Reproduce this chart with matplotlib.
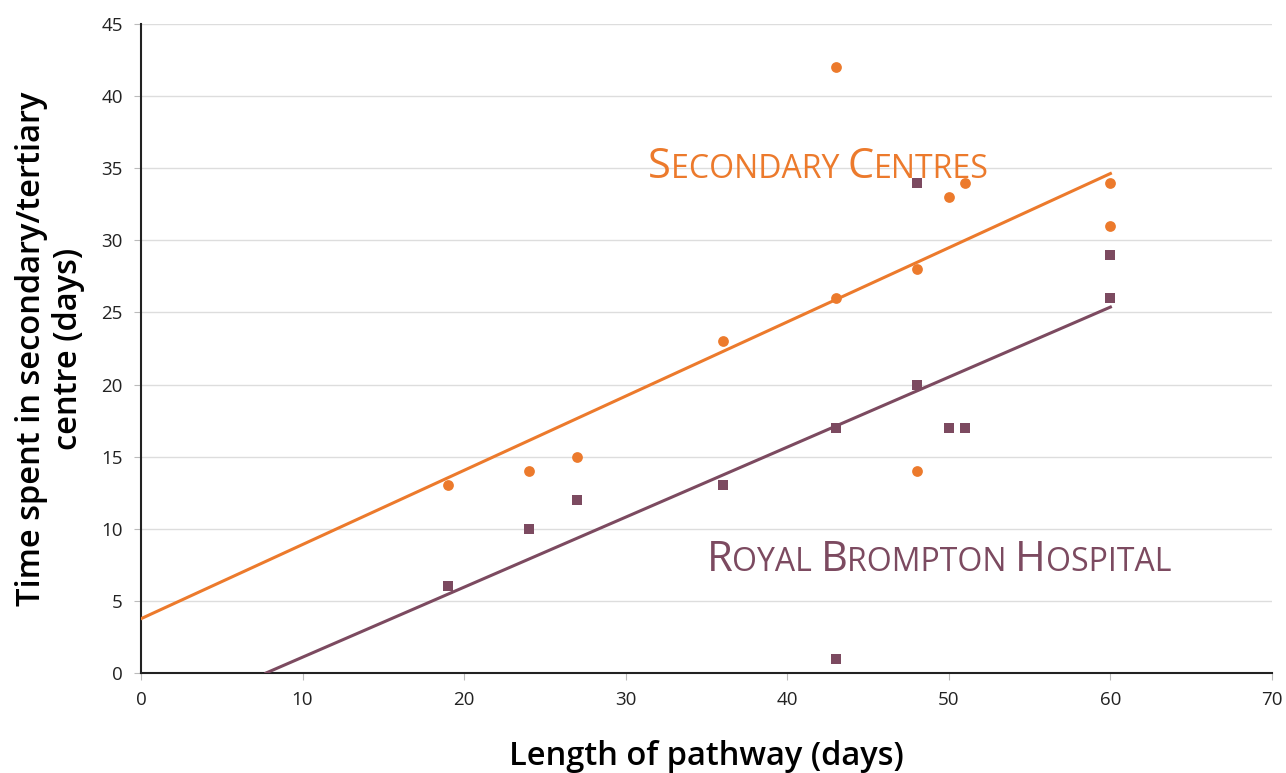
import numpy as np
import matplotlib.pyplot as plt
from matplotlib.offsetbox import TextArea, HPacker, AnchoredOffsetbox

# Data
sec_x = [19, 24, 27, 36, 43, 43, 48, 48, 50, 51, 60, 60]
sec_y = [13, 14, 15, 23, 26, 42, 28, 14, 33, 34, 34, 31]
rbh_x = [19, 24, 27, 36, 43, 43, 48, 48, 50, 51, 60, 60]
rbh_y = [6, 10, 12, 13, 17, 1, 34, 20, 17, 17, 29, 26]

orange = '#EC7A2C'
purple = '#7C4A60'

plt.rcParams['font.family'] = ['Open Sans', 'DejaVu Sans']

fig = plt.figure(figsize=(12.86, 7.73), dpi=100)
ax = fig.add_axes([0.1096, 0.1294, 0.8795, 0.8396])

# Linear trend lines
m1, c1 = np.polyfit(sec_x, sec_y, 1)
m2, c2 = np.polyfit(rbh_x, rbh_y, 1)
x1 = np.array([0, 60])
x2 = np.array([-c2 / m2, 60])
ax.plot(x1, m1 * x1 + c1, color=orange, lw=2.2, zorder=3)
ax.plot(x2, m2 * x2 + c2, color=purple, lw=2.2, zorder=3)

ax.scatter(sec_x, sec_y, s=60, marker='o', color=orange, zorder=4, linewidths=0)
ax.scatter(rbh_x, rbh_y, s=60, marker='s', color=purple, zorder=4, linewidths=0)

ax.set_xlim(0, 70)
ax.set_ylim(0, 45)
ax.set_xticks(range(0, 71, 10))
ax.set_yticks(range(0, 46, 5))
ax.grid(axis='y', color='#dddddd', lw=1)
ax.set_axisbelow(True)
for s in ['top', 'right']:
    ax.spines[s].set_visible(False)
for s in ['left', 'bottom']:
    ax.spines[s].set_color('#222222')
    ax.spines[s].set_linewidth(1.5)
ax.tick_params(labelsize=13.5, colors='#222222', length=5, color='#bbbbbb', pad=8)

ax.set_xlabel('Length of pathway (days)', fontsize=23.5, fontweight='semibold', labelpad=22)
ax.set_ylabel('Time spent in secondary/tertiary\ncentre (days)', fontsize=23.5,
              fontweight='semibold', labelpad=12, linespacing=1.15)


def small_caps(words, big, small, color):
    parts = []
    for i, w in enumerate(words):
        parts.append(TextArea(w[0], textprops=dict(color=color, fontsize=big)))
        txt = w[1:].upper() + (' ' if i < len(words) - 1 else '')
        parts.append(TextArea(txt, textprops=dict(color=color, fontsize=small)))
    return HPacker(children=parts, align='baseline', pad=0, sep=0)


box1 = AnchoredOffsetbox(loc='lower left', child=small_caps(['Secondary', 'Centres'], 30, 23, orange),
                         bbox_to_anchor=(31.4, 33.6), bbox_transform=ax.transData,
                         frameon=False, pad=0, borderpad=0)
ax.add_artist(box1)
box2 = AnchoredOffsetbox(loc='lower left', child=small_caps(['Royal', 'Brompton', 'Hospital'], 30, 23, purple),
                         bbox_to_anchor=(35.0, 6.4), bbox_transform=ax.transData,
                         frameon=False, pad=0, borderpad=0)
ax.add_artist(box2)

fig.savefig('out.png', dpi=100)
